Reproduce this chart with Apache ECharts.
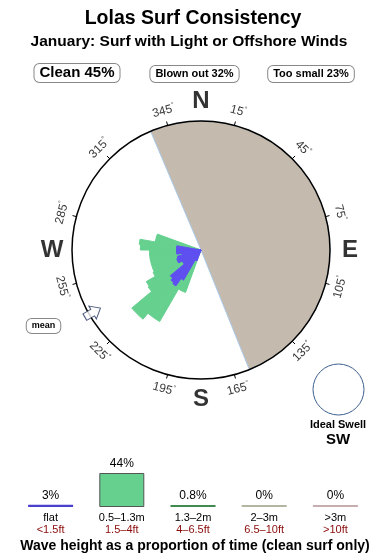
<!DOCTYPE html>
<html><head><meta charset="utf-8">
<script src="https://cdn.jsdelivr.net/npm/echarts@6/dist/echarts.min.js"></script>
<style>html,body{margin:0;padding:0;background:#fff}#c{width:390px;height:560px}</style>
</head><body><div id="c"></div>
<script>
const FONT = '"Liberation Sans", Arial, Helvetica, sans-serif';
const titleText = 'Lolas Surf Consistency';
const subtitleText = 'January: Surf with Light or Offshore Winds';
const captionText = 'Wave height as a proportion of time (clean surf only)';
const stateNames = ['Clean', 'Blown out', 'Too small'];
const statePcts = [45, 32, 23];
// rose: 5-degree direction bins (bin start, degrees)
const binStarts = [200,205,210,215,220,225,230,235,240,245,250,255,260,265,270,275,280,285];
const cleanSurf = [35,35,64,64,70,70,50,49,41,40,40,40,40,40,47,48,36,36];   // 0.5–1.3m
const flatSurf  = [9,9,27,34,33,31,17,17,20,20,19,15,19,19,19,19,0,0];        // flat
const blownSector = [337, 158];   // onshore-wind sector, from/to bearing
const meanDir = 240;
const idealSwell = 'SW';
const tickDegrees = [15,45,75,105,135,165,195,225,255,285,315,345];
const compassNames = ['N','E','S','W'];
const compassDegrees = [0,90,180,270];
// wave-height legend
const heightCats = ['flat','0.5–1.3m','1.3–2m','2–3m','>3m'];
const heightFeet = ['<1.5ft','1.5–4ft','4–6.5ft','6.5–10ft','>10ft'];
const heightPcts = [3, 44, 0.8, 0, 0];
const heightLabels = ['3%','44%','0.8%','0%','0%'];
const heightColors = ['#4b3fcf','#66d18f','#3f8a4f','#b4b4a2','#c6aeae'];

const roseCenter = [201, 250], roseRadius = 129;
const C_GREEN = '#66d18f', C_BLUE = '#5f4ff0', C_TAN = '#c4baae';

const cats = Array.from({length: 72}, (_, i) => i * 5);
const greenData = cats.map(d => { const k = binStarts.indexOf(d); return k < 0 ? 0 : cleanSurf[k]; });
const blueData = cats.map(d => { const k = binStarts.indexOf(d); return k < 0 ? 0 : flatSurf[k]; });

const span = ((blownSector[1] - blownSector[0]) % 360 + 360) % 360;
const pieStart = ((90 - blownSector[0]) % 360 + 360) % 360;

function cwRot(t) { return (t > 90 && t < 270) ? t - 180 : (t >= 270 ? t - 360 : t); }

const degLabelData = tickDegrees.map(t => ({
  value: [111.5, t],
  label: { formatter: '{n|' + t + '}{d|°}', rotate: -cwRot(t) }
}));
const compassData = compassNames.map((n, i) => ({ value: [115.5, compassDegrees[i]], label: { formatter: n } }));

const chart = echarts.init(document.getElementById('c'), null, {renderer: 'canvas'});
const boxStyle = (txt, x, y, size) => ({
  type: 'text', x: x, y: y, z: 20,
  style: { text: txt, fill: '#000', font: 'bold ' + size + 'px ' + FONT, align: 'center', verticalAlign: 'middle',
    backgroundColor: '#fff', borderColor: '#888', borderWidth: 1, borderRadius: 5, padding: size > 12 ? [2, 5, 1, 5] : [3, 5, 2, 5] }
});
chart.setOption({
  animation: false,
  textStyle: { fontFamily: FONT },
  polar: [
    { center: roseCenter, radius: roseRadius },
    { center: roseCenter, radius: roseRadius }
  ],
  angleAxis: [
    { polarIndex: 0, type: 'category', data: cats, startAngle: 90, clockwise: true, boundaryGap: true, show: false },
    { polarIndex: 1, type: 'value', min: -15, max: 345, interval: 30, startAngle: 105, clockwise: true, z: 10,
      axisLine: { lineStyle: { color: '#000', width: 1.5 } },
      axisTick: { show: true, inside: false, length: 4, lineStyle: { color: '#000', width: 1 } },
      axisLabel: { show: false }, splitLine: { show: false } }
  ],
  radiusAxis: [
    { polarIndex: 0, type: 'value', min: 0, max: 100, show: false },
    { polarIndex: 1, type: 'value', min: 0, max: 100, show: false }
  ],
  grid: { left: 15, right: 19, top: 473, bottom: 53 },
  xAxis: { type: 'category', data: heightCats, axisLine: { show: false }, axisTick: { show: false },
    axisLabel: { interval: 0, margin: 5, formatter: (v, i) => '{a|' + v + '}\n{b|' + heightFeet[i] + '}',
      rich: { a: { fontSize: 11, color: '#000', lineHeight: 12, fontFamily: FONT },
              b: { fontSize: 11, color: '#8b0a0a', lineHeight: 12, fontFamily: FONT } } } },
  yAxis: { type: 'value', min: 0, max: 44, show: false },
  series: [
    { type: 'pie', center: roseCenter, radius: roseRadius, startAngle: pieStart, clockwise: true, silent: true, z: 1,
      label: { show: false }, labelLine: { show: false }, emphasis: { disabled: true },
      data: [ { value: span, itemStyle: { color: C_TAN, borderColor: '#a8c8e8', borderWidth: 1 } },
              { value: 360 - span, itemStyle: { color: 'rgba(0,0,0,0)' } } ] },
    { type: 'bar', coordinateSystem: 'polar', polarIndex: 0, data: greenData, barCategoryGap: '0%', barGap: '-100%', z: 3,
      itemStyle: { color: C_GREEN, borderColor: C_GREEN, borderWidth: 1 }, silent: true },
    { type: 'bar', coordinateSystem: 'polar', polarIndex: 0, data: blueData, barCategoryGap: '0%', barGap: '-100%', z: 4,
      itemStyle: { color: C_BLUE, borderColor: C_BLUE, borderWidth: 1 }, silent: true },
    { type: 'scatter', coordinateSystem: 'polar', polarIndex: 1, symbolSize: 1, clip: false, z: 12, silent: true, data: degLabelData,
      itemStyle: { color: 'rgba(0,0,0,0)' },
      label: { show: true, position: 'inside', color: '#000',
        rich: { n: { fontSize: 12, fontFamily: FONT, color: '#000' }, d: { fontSize: 7, fontFamily: FONT, color: '#000', padding: [0, 0, 7, 0] } } } },
    { type: 'scatter', coordinateSystem: 'polar', polarIndex: 1, symbolSize: 1, clip: false, z: 12, silent: true, data: compassData,
      itemStyle: { color: 'rgba(0,0,0,0)' },
      label: { show: true, position: 'inside', color: '#000', fontSize: 24, fontWeight: 'bold', fontFamily: FONT } },
    { type: 'scatter', coordinateSystem: 'polar', polarIndex: 1, z: 13, silent: true, clip: false,
      data: [[97, meanDir]],
      symbol: 'path://M5,0 L10,6 L7.5,6 L7.5,12 L2.5,12 L2.5,6 L0,6 Z', symbolSize: [15, 18],
      symbolRotate: -(meanDir - 180),
      itemStyle: { color: '#fff', borderColor: '#1e2f5a', borderWidth: 1 } },
    { type: 'bar', xAxisIndex: 0, yAxisIndex: 0, barWidth: 45, barMinHeight: 2, silent: true,
      data: heightPcts.map((v, i) => ({ value: v, itemStyle: { color: heightColors[i], borderColor: i === 1 ? '#555' : heightColors[i], borderWidth: i === 1 ? 1 : 0 } })),
      label: { show: true, position: 'top', distance: 3, fontSize: 12, color: '#000', fontFamily: FONT,
        formatter: (p) => heightLabels[p.dataIndex] } }
  ],
  graphic: [
    { type: 'text', x: 193, y: 19, style: { text: titleText, fill: '#000', font: 'bold 19.5px ' + FONT, align: 'center', verticalAlign: 'middle' } },
    { type: 'text', x: 189, y: 42, style: { text: subtitleText, fill: '#000', font: 'bold 15.5px ' + FONT, align: 'center', verticalAlign: 'middle' } },
    { type: 'text', x: 195, y: 546, style: { text: captionText, fill: '#000', font: 'bold 14px ' + FONT, align: 'center', verticalAlign: 'middle' } },
    boxStyle(stateNames[0] + ' ' + statePcts[0] + '%', 77, 73, 15),
    boxStyle(stateNames[1] + ' ' + statePcts[1] + '%', 194.5, 74, 11),
    boxStyle(stateNames[2] + ' ' + statePcts[2] + '%', 311, 74, 11),
    boxStyle('mean', 43.5, 326, 9),
    { type: 'circle', shape: { cx: 338.5, cy: 389.5, r: 25.5 }, style: { fill: '#fff', stroke: '#3b5f8f', lineWidth: 1 } },
    { type: 'text', x: 338, y: 425, style: { text: 'Ideal Swell', fill: '#000', font: 'bold 11px ' + FONT, align: 'center', verticalAlign: 'middle' } },
    { type: 'text', x: 338, y: 440, style: { text: idealSwell, fill: '#000', font: 'bold 15px ' + FONT, align: 'center', verticalAlign: 'middle' } }
  ]
});
</script></body></html>
